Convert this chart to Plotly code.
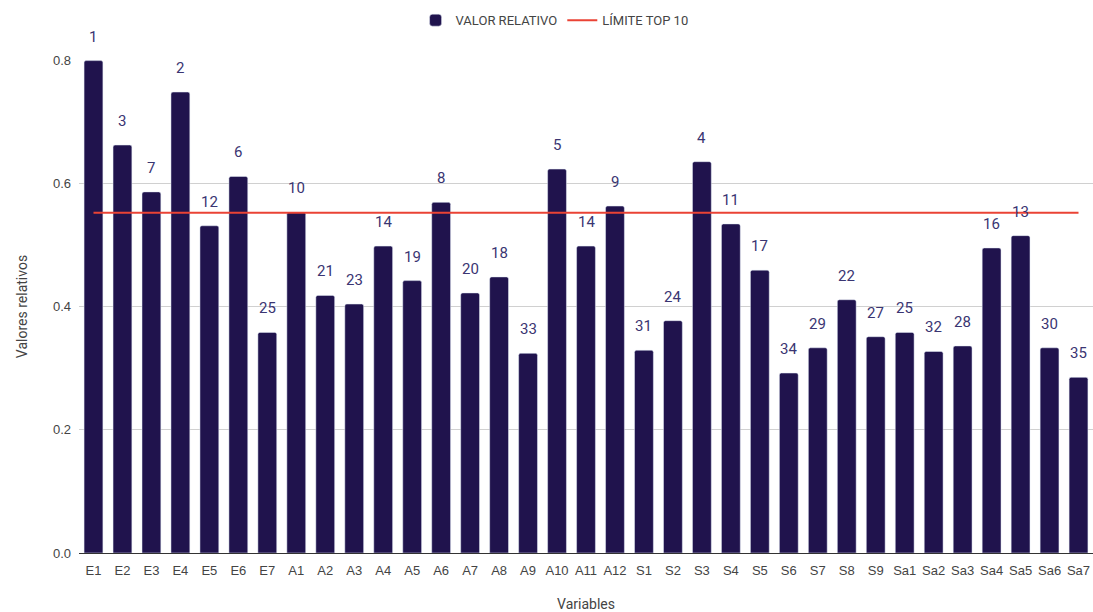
import plotly.graph_objects as go

# Variables and their relative values
variables = ["E1", "E2", "E3", "E4", "E5", "E6", "E7",
             "A1", "A2", "A3", "A4", "A5", "A6", "A7", "A8", "A9", "A10", "A11", "A12",
             "S1", "S2", "S3", "S4", "S5", "S6", "S7", "S8", "S9",
             "Sa1", "Sa2", "Sa3", "Sa4", "Sa5", "Sa6", "Sa7"]
valores = [0.799, 0.662, 0.586, 0.748, 0.531, 0.611, 0.358,
           0.553, 0.418, 0.404, 0.498, 0.442, 0.569, 0.422, 0.448, 0.324, 0.623, 0.498, 0.563,
           0.329, 0.377, 0.635, 0.534, 0.459, 0.292, 0.333, 0.411, 0.351,
           0.358, 0.327, 0.336, 0.495, 0.515, 0.333, 0.285]
ranking = [1, 3, 7, 2, 12, 6, 25,
           10, 21, 23, 14, 19, 8, 20, 18, 33, 5, 14, 9,
           31, 24, 4, 11, 17, 34, 29, 22, 27,
           25, 32, 28, 16, 13, 30, 35]
limite_top10 = 0.552

BAR_COLOR = "#20134d"
LINE_COLOR = "#ea4335"
LABEL_COLOR = "#3a3572"
AXIS_TEXT = "#444444"

fig = go.Figure()
fig.add_trace(go.Bar(
    x=variables, y=valores, name="VALOR RELATIVO",
    marker=dict(color=BAR_COLOR, cornerradius=2),
))
fig.add_trace(go.Scatter(
    x=variables, y=[limite_top10] * len(variables), name="LÍMITE TOP 10",
    mode="lines", line=dict(color=LINE_COLOR, width=2),
))

# Rank labels above each bar
for v, val, r in zip(variables, valores, ranking):
    fig.add_annotation(
        x=v, y=val, text=str(r), showarrow=False,
        yanchor="middle", yshift=24,
        font=dict(family="Roboto", size=15, color=LABEL_COLOR),
    )

fig.update_layout(
    width=1093, height=612,
    margin=dict(l=79, r=0, t=60, b=59),
    paper_bgcolor="white", plot_bgcolor="white",
    bargap=0.35,
    font=dict(family="Liberation Sans, Arial", size=13, color=AXIS_TEXT),
    legend=dict(
        orientation="h", x=0.469, xanchor="center",
        yref="container", y=0.967, yanchor="middle",
        font=dict(family="Roboto", size=13, color=AXIS_TEXT),
        itemwidth=30,
    ),
    xaxis=dict(
        title=dict(text="Variables", font=dict(family="Roboto", size=14, color=AXIS_TEXT), standoff=28),
        automargin=False,
        showline=True, linecolor="#333333", linewidth=1,
        ticks="", ticklabelstandoff=5,
        tickfont=dict(family="Liberation Sans", size=13, color=AXIS_TEXT),
        showgrid=False,
    ),
    yaxis=dict(
        title=dict(text="Valores relativos", font=dict(family="Roboto", size=14, color=AXIS_TEXT), standoff=22),
        automargin=False,
        range=[0, 0.8], tickvals=[0, 0.2, 0.4, 0.6, 0.8], tickformat=".1f",
        showgrid=True, gridcolor="#d0d0d0", gridwidth=1,
        zeroline=False, ticks="", ticklen=0, ticklabelstandoff=7,
        tickfont=dict(family="Liberation Sans", size=13, color=AXIS_TEXT),
    ),
)

fig.write_html("out.html")
